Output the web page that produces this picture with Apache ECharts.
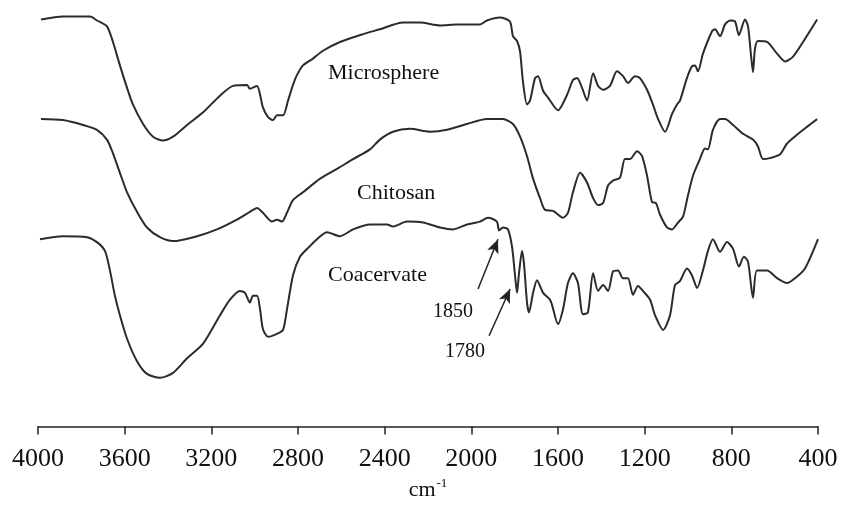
<!DOCTYPE html>
<html>
<head>
<meta charset="utf-8">
<script src="https://cdn.jsdelivr.net/npm/echarts@6/dist/echarts.min.js"></script>
<style>html,body{margin:0;padding:0;background:#fff}#c{width:841px;height:506px}</style>
</head>
<body>
<div id="c"></div>
<script>
// wavenumber (cm-1), relative transmittance (arbitrary, offset per trace)
const microsphere = [
[3986,417],[3885,420],[3760,420],[3728,416],[3682,410],[3654,394],[3622,370],[3589,347],[3562,330],[3515,310],
[3469,297],[3423,293],[3377,297],[3312,309],[3238,322],[3160,339],[3100,349],[3035,350],[3022,346],[2989,349],
[2975,340],[2962,327],[2938,317],[2915,314],[2897,319],[2869,319],[2846,334],[2823,350],[2805,360],[2777,370],
[2731,377],[2685,385],[2606,394],[2500,402],[2422,407],[2315,414],[2237,414],[2145,411],[2066,412],[1960,412],
[1928,416],[1868,419],[1822,415],[1808,400],[1789,395],[1775,384],[1762,354],[1743,330],[1729,334],[1706,357],
[1692,359],[1669,344],[1646,337],[1600,324],[1558,340],[1531,355],[1512,357],[1489,347],[1466,334],[1438,362],
[1415,349],[1392,345],[1360,349],[1328,364],[1300,359],[1277,352],[1245,359],[1222,357],[1189,345],[1162,330],
[1138,315],[1106,302],[1074,320],[1051,330],[1037,334],[1005,357],[982,369],[968,370],[954,364],[931,382],
[889,405],[875,407],[852,400],[829,412],[806,416],[783,415],[765,401],[737,417],[723,410],[709,380],
[700,363],[691,387],[677,395],[635,394],[589,382],[552,374],[515,379],[469,394],[404,417]
];
const chitosan = [
[3986,315],[3885,314],[3792,309],[3728,304],[3682,294],[3654,280],[3622,260],[3589,240],[3543,220],[3497,204],
[3437,194],[3377,190],[3266,195],[3174,202],[3082,212],[3022,220],[2989,224],[2962,219],[2920,210],[2897,212],
[2874,210],[2851,219],[2823,232],[2777,240],[2698,254],[2620,264],[2546,274],[2468,284],[2422,294],[2362,302],
[2283,305],[2191,302],[2112,304],[2020,310],[1928,315],[1854,315],[1808,310],[1775,297],[1743,277],[1715,254],
[1683,234],[1660,222],[1623,221],[1577,214],[1554,219],[1531,240],[1498,260],[1466,250],[1438,234],[1415,227],
[1392,229],[1369,247],[1346,252],[1314,255],[1291,274],[1268,274],[1235,282],[1212,277],[1189,257],[1166,230],
[1148,229],[1129,217],[1097,204],[1074,202],[1046,209],[1023,215],[1000,237],[977,257],[945,274],[922,285],
[908,284],[885,304],[852,315],[829,315],[792,309],[746,300],[700,294],[677,287],[654,274],[622,275],
[575,279],[543,290],[497,299],[451,307],[404,315]
];
const coacervate = [
[3991,192],[3885,195],[3774,194],[3728,189],[3691,180],[3668,160],[3645,134],[3622,114],[3589,90],[3543,67],
[3497,54],[3437,50],[3377,55],[3312,70],[3238,85],[3160,114],[3114,130],[3068,139],[3045,137],[3022,127],
[3008,134],[2989,134],[2975,120],[2962,100],[2938,92],[2897,95],[2869,99],[2851,120],[2823,155],[2791,174],
[2758,182],[2712,192],[2666,199],[2606,195],[2546,202],[2468,207],[2389,207],[2362,205],[2297,210],[2223,209],
[2145,204],[2085,202],[2020,207],[1960,210],[1923,214],[1882,210],[1872,201],[1854,204],[1831,202],[1812,184],
[1798,154],[1789,137],[1780,157],[1766,180],[1757,167],[1743,127],[1734,117],[1715,137],[1697,150],[1669,137],
[1637,130],[1628,125],[1600,105],[1577,120],[1554,147],[1531,157],[1508,147],[1485,115],[1462,117],[1438,157],
[1415,139],[1392,145],[1369,139],[1346,159],[1323,160],[1300,152],[1277,152],[1254,135],[1231,144],[1208,139],
[1175,130],[1152,114],[1115,99],[1083,114],[1060,145],[1037,149],[1005,162],[982,155],[958,142],[931,160],
[908,180],[885,192],[852,179],[820,189],[792,182],[765,164],[742,174],[723,169],[700,132],[682,160],
[635,160],[589,152],[543,147],[506,152],[460,162],[400,192]
];
const seriesNames = ['Microsphere','Chitosan','Coacervate'];
const xTicks = [4000,3600,3200,2800,2400,2000,1600,1200,800,400];
const arrows = [
  {label:'1850', from:[1969,141], to:[1877,192]},
  {label:'1780', from:[1918,93], to:[1821,141]}
];

const chart = echarts.init(document.getElementById('c'), null, {renderer:'canvas'});
const lineColor = '#2b2b2b';
const serif = '"Liberation Serif","DejaVu Serif",serif';
function mkSeries(name, data, extra){
  return Object.assign({
    name, type:'line', data, showSymbol:false, smooth:0.25, silent:true,
    lineStyle:{color:lineColor, width:2}, z:2
  }, extra||{});
}
chart.setOption({
  animation:false,
  backgroundColor:'#fff',
  grid:{left:38, right:23, top:0, bottom:69, containLabel:false},
  xAxis:{
    type:'value', inverse:true, min:400, max:4000, interval:400,
    axisLine:{show:true, lineStyle:{color:'#222', width:1.5}},
    axisTick:{show:true, length:8, inside:false, lineStyle:{color:'#222', width:1.5}},
    splitLine:{show:false},
    axisLabel:{color:'#111', fontFamily:serif, fontSize:26, margin:20,
      formatter:v=> xTicks.indexOf(v)>=0 ? String(v) : ''},
    name:'cm{sup|-1}', nameLocation:'middle', nameGap:46,
    nameTextStyle:{color:'#111', fontFamily:serif, fontSize:22,
      rich:{sup:{fontFamily:serif, fontSize:13, color:'#111', verticalAlign:'bottom', padding:[0,0,12,1]}}}
  },
  yAxis:{type:'value', min:0, max:437, show:false},
  series:[
    mkSeries(seriesNames[0], microsphere),
    mkSeries(seriesNames[1], chitosan),
    mkSeries(seriesNames[2], coacervate, {
      markLine:{
        silent:true, symbol:['none','arrow'], symbolSize:[9,14],
        lineStyle:{color:'#222', width:1.5, type:'solid'},
        label:{show:false},
        data: arrows.map(a=>[{coord:a.from},{coord:a.to}])
      }
    })
  ],
  graphic:[
    {type:'text', left:328, top:62, style:{text:seriesNames[0], font:'22px '+serif, fill:'#111'}},
    {type:'text', left:357, top:182, style:{text:seriesNames[1], font:'22px '+serif, fill:'#111'}},
    {type:'text', left:328, top:264, style:{text:seriesNames[2], font:'22px '+serif, fill:'#111'}},
    {type:'text', left:433, top:302, style:{text:arrows[0].label, font:'20px '+serif, fill:'#111'}},
    {type:'text', left:445, top:342, style:{text:arrows[1].label, font:'20px '+serif, fill:'#111'}}
  ]
});
</script>
</body>
</html>
